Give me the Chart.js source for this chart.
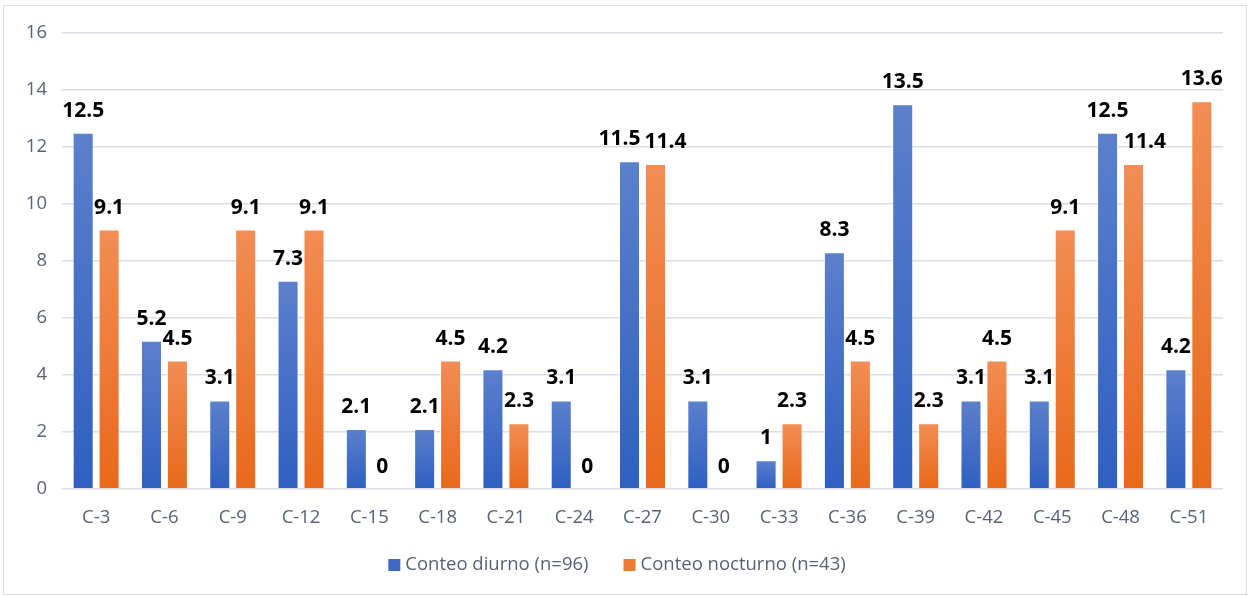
<!DOCTYPE html>
<html>
<head>
<meta charset="utf-8">
<script src="https://cdn.jsdelivr.net/npm/chart.js@4"></script>
<style>
  html, body { margin: 0; padding: 0; background: #fff; }
  #wrap { position: absolute; left: 3px; top: 5px; width: 1242px; height: 588px; border: 1px solid #d9dde6; overflow: hidden; }
  canvas { display: block; }
</style>
</head>
<body>
<div id="wrap"><canvas id="myChart" width="1242" height="588"></canvas></div>
<script>
// categories
var estaciones = ['C-3','C-6','C-9','C-12','C-15','C-18','C-21','C-24','C-27','C-30','C-33','C-36','C-39','C-42','C-45','C-48','C-51'];
// porcentajes por conteo
var diurno = [12.5,5.2,3.1,7.3,2.1,2.1,4.2,3.1,11.5,3.1,1,8.3,13.5,3.1,3.1,12.5,4.2];
var nocturno = [9.1,4.5,9.1,9.1,0,4.5,2.3,0,11.4,0,2.3,4.5,2.3,4.5,9.1,11.4,13.6];
var yTicks = [0,2,4,6,8,10,12,14,16];

var textColor = '#596275';
var fontName = "'Open Sans', 'Noto Sans', sans-serif";
var blueTop = '#5b80cc', blueBottom = '#2f5fc1';
var orangeTop = '#f28d55', orangeBottom = '#e8691b';

// gradient per bar, light on top and darker at the base
function barGradient(top, bottom){
  return function(context){
    var chart = context.chart;
    if (!chart.chartArea || context.type !== 'data') return bottom;
    var y = chart.scales.y;
    var yTop = y.getPixelForValue(context.raw);
    var yBase = y.getPixelForValue(0);
    if (Math.abs(yBase - yTop) < 1) return bottom;
    var g = chart.ctx.createLinearGradient(0, yTop, 0, yBase);
    g.addColorStop(0, top);
    g.addColorStop(1, bottom);
    return g;
  };
}

// numbers over the bars, pushed sideways when they would collide
var valueLabels = {
  id: 'valueLabels',
  afterDatasetsDraw: function(chart){
    var ctx = chart.ctx;
    ctx.save();
    ctx.font = 'bold 21px ' + fontName;
    ctx.fillStyle = '#000';
    ctx.textAlign = 'center';
    ctx.textBaseline = 'middle';
    var m0 = chart.getDatasetMeta(0).data, m1 = chart.getDatasetMeta(1).data;
    var d0 = chart.data.datasets[0].data, d1 = chart.data.datasets[1].data;
    var h = 16;
    for (var j = 0; j < m0.length; j++){
      var a = m0[j], b = m1[j];
      var ta = String(d0[j]), tb = String(d1[j]);
      var wa = ctx.measureText(ta).width, wb = ctx.measureText(tb).width;
      var xa = a.x, ya = a.y - 22;
      var xb = b.x, yb = b.y - 22;
      // right label sitting on the left bar
      var aRight = a.x + a.width / 2;
      if (yb + h / 2 > a.y && xb - wb / 2 < aRight && Math.abs(ya - yb) > h) {
        xb = aRight + 6 + wb / 2;
      }
      // labels touching each other
      if (Math.abs(ya - yb) < h) {
        var ov = (xa + wa / 2 + 4) - (xb - wb / 2);
        if (ov > 0) { xa -= ov / 2; xb += ov / 2; }
      }
      ctx.fillText(ta, xa, ya);
      ctx.fillText(tb, xb, yb);
    }
    ctx.restore();
  }
};

// legend drawn under the axis
var bottomLegend = {
  id: 'bottomLegend',
  afterDraw: function(chart){
    var ctx = chart.ctx;
    ctx.save();
    ctx.font = '18.5px ' + fontName;
    ctx.textBaseline = 'middle';
    ctx.textAlign = 'left';
    var items = chart.data.datasets.map(function(ds, i){
      return { text: ds.label, color: i === 0 ? '#3f68c6' : '#ee7a33', w: ctx.measureText(ds.label).width };
    });
    var box = 12, gap = 5, between = 35;
    var total = 0;
    items.forEach(function(it, i){ total += box + gap + it.w + (i ? between : 0); });
    var x = 613 - total / 2, y = 559;
    items.forEach(function(it, i){
      if (i) x += between;
      ctx.fillStyle = it.color;
      ctx.fillRect(x, y - box / 2, box, box);
      x += box + gap;
      ctx.fillStyle = textColor;
      ctx.fillText(it.text, x, y);
      x += it.w;
    });
    ctx.restore();
  }
};

var ctx = document.getElementById('myChart');
var myChart = new Chart(ctx, {
  type: 'bar',
  data: {
    labels: estaciones,
    datasets: [
      {
        label: 'Conteo diurno (n=96)',
        data: diurno,
        backgroundColor: barGradient(blueTop, blueBottom),
        borderColor: 'rgba(255,255,255,0.6)',
        borderWidth: 1,
        categoryPercentage: 0.76,
        barPercentage: 0.81
      },
      {
        label: 'Conteo nocturno (n=43)',
        data: nocturno,
        backgroundColor: barGradient(orangeTop, orangeBottom),
        borderColor: 'rgba(255,255,255,0.6)',
        borderWidth: 1,
        categoryPercentage: 0.76,
        barPercentage: 0.81
      }
    ]
  },
  options: {
    responsive: false,
    animation: false,
    layout: { padding: { top: 27, right: 23, bottom: 55, left: 0 } },
    plugins: {
      tooltip: { enabled: false },
      legend: { display: false }
    },
    scales: {
      x: {
        grid: { display: false },
        border: { display: false },
        ticks: { color: textColor, font: { family: fontName, size: 18.5 }, padding: 10 }
      },
      y: {
        min: 0,
        max: 16,
        afterBuildTicks: function(s){ s.ticks = yTicks.map(function(v){ return { value: v }; }); },
        afterFit: function(s){ s.width = 58; },
        grid: { color: '#d9dde6', lineWidth: 1.5, drawTicks: false },
        border: { display: false },
        ticks: { color: textColor, font: { family: fontName, size: 18.5 }, padding: 15 }
      }
    }
  },
  plugins: [valueLabels, bottomLegend]
});
</script>
</body>
</html>
